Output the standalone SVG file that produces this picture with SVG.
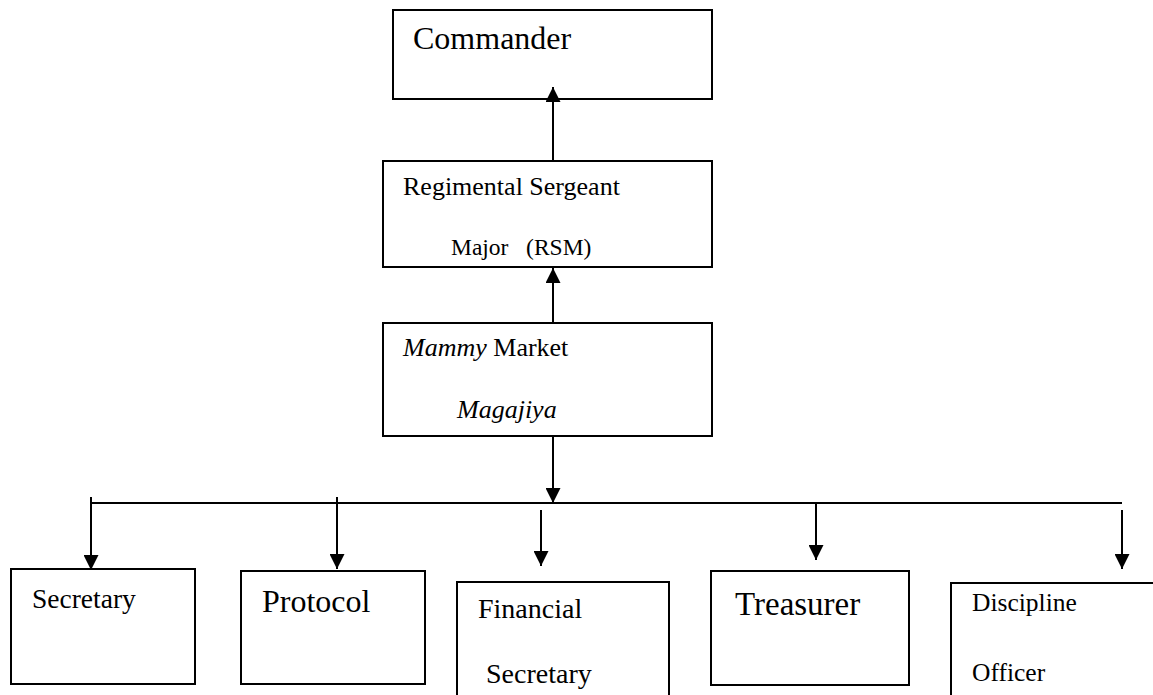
<svg xmlns="http://www.w3.org/2000/svg" width="1153" height="695" viewBox="0 0 1153 695">
<style>
  .box { fill: #ffffff; stroke: #000000; stroke-width: 2; }
  .t { font-family: "Liberation Serif", "Times New Roman", serif; fill: #000000; }
  .i { font-style: italic; }
  .conn { stroke: #000000; stroke-width: 2; fill: none; }
</style>
<defs>
  <marker id="ah" viewBox="0 0 10 10" refX="10" refY="5" markerWidth="15" markerHeight="15" markerUnits="userSpaceOnUse" orient="auto">
    <path d="M0,0 L10,5 L0,10 Z" fill="#000000"/>
  </marker>
</defs>
<rect width="1153" height="695" fill="#ffffff"/>

<g id="commander">
  <rect class="box" x="393" y="10" width="319" height="89"/>
  <text class="t" x="413" y="49" font-size="32">Commander</text>
</g>
<g id="rsm">
  <rect class="box" x="383" y="161" width="329" height="106"/>
  <text class="t" x="403" y="195" font-size="26">Regimental Sergeant</text>
  <text class="t" x="451" y="255" font-size="23.5" style="white-space:pre">Major   (RSM)</text>
</g>
<g id="magajiya">
  <rect class="box" x="383" y="323" width="329" height="113"/>
  <text class="t" x="403" y="356" font-size="26"><tspan class="i">Mammy</tspan> Market</text>
  <text class="t i" x="457" y="418" font-size="26">Magajiya</text>
</g>
<g id="secretary">
  <rect class="box" x="11" y="569" width="184" height="115"/>
  <text class="t" x="32" y="608" font-size="27.5">Secretary</text>
</g>
<g id="protocol">
  <rect class="box" x="241" y="571" width="184" height="113"/>
  <text class="t" x="262" y="612" font-size="32">Protocol</text>
</g>
<g id="financial">
  <rect class="box" x="457" y="582" width="212" height="130"/>
  <text class="t" x="478" y="618" font-size="28">Financial</text>
  <text class="t" x="486" y="683" font-size="28">Secretary</text>
</g>
<g id="treasurer">
  <rect class="box" x="711" y="571" width="198" height="114"/>
  <text class="t" x="735" y="615" font-size="33">Treasurer</text>
</g>
<g id="discipline">
  <rect class="box" x="951" y="583" width="220" height="130"/>
  <text class="t" x="972" y="611" font-size="25.5">Discipline</text>
  <text class="t" x="972" y="681" font-size="25.5">Officer</text>
</g>

<g id="connectors">
  <path class="conn" d="M553,161 L553,87" marker-end="url(#ah)"/>
  <path class="conn" d="M553,323 L553,268" marker-end="url(#ah)"/>
  <path class="conn" d="M553,436 L553,503" marker-end="url(#ah)"/>
  <path class="conn" d="M91,503 L1122,503"/>
  <path class="conn" d="M91,497 L91,570" marker-end="url(#ah)"/>
  <path class="conn" d="M337,497 L337,569" marker-end="url(#ah)"/>
  <path class="conn" d="M541,510 L541,566" marker-end="url(#ah)"/>
  <path class="conn" d="M816,503 L816,560" marker-end="url(#ah)"/>
  <path class="conn" d="M1122,510 L1122,569" marker-end="url(#ah)"/>
</g>
</svg>
